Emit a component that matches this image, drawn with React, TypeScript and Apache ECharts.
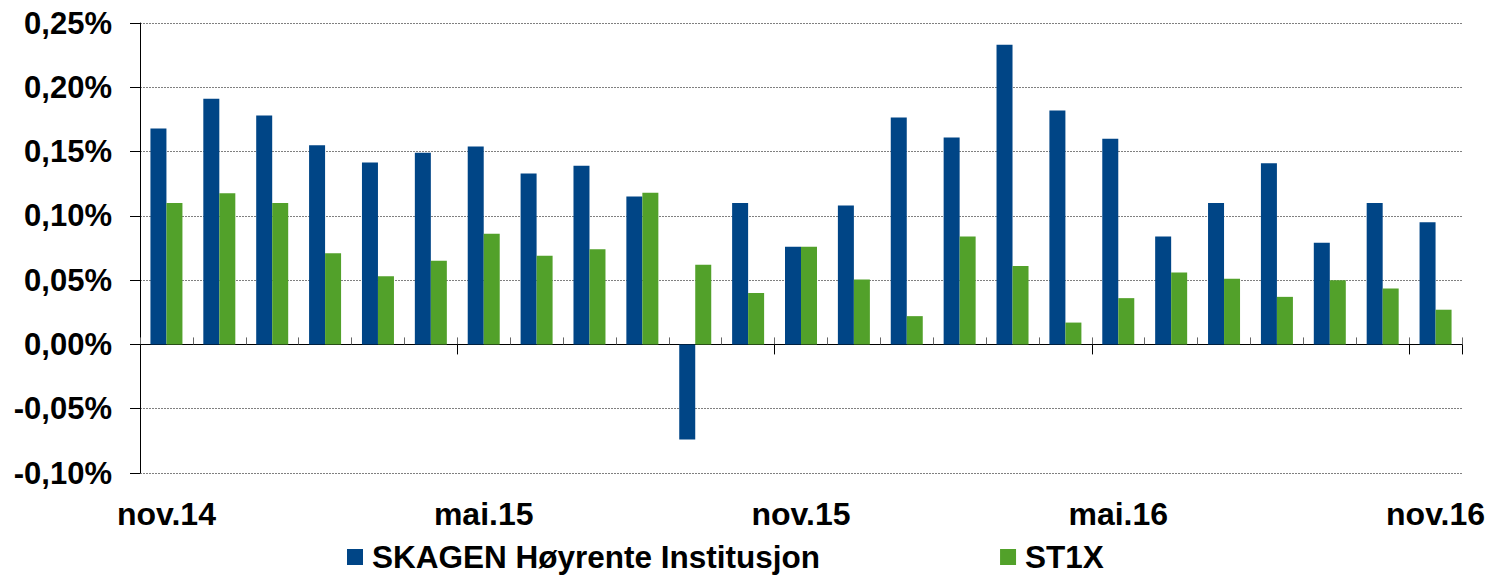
import React, { useEffect, useRef } from "react";
import * as echarts from "echarts";

const categories = [
  "nov.14", "des.14", "jan.15", "feb.15", "mar.15", "apr.15", "mai.15",
  "jun.15", "jul.15", "aug.15", "sep.15", "okt.15", "nov.15", "des.15",
  "jan.16", "feb.16", "mar.16", "apr.16", "mai.16", "jun.16", "jul.16",
  "aug.16", "sep.16", "okt.16", "nov.16",
];

const skagenValues = [
  0.168, 0.191, 0.178, 0.155, 0.1415, 0.149, 0.154, 0.133, 0.139, 0.115,
  -0.074, 0.11, 0.076, 0.108, 0.1765, 0.161, 0.233, 0.182, 0.16, 0.084,
  0.11, 0.141, 0.079, 0.11, 0.095,
];

const st1xValues = [
  0.11, 0.1175, 0.11, 0.071, 0.053, 0.065, 0.086, 0.069, 0.074, 0.118,
  0.062, 0.04, 0.076, 0.0505, 0.022, 0.084, 0.061, 0.017, 0.036, 0.056,
  0.051, 0.037, 0.05, 0.0435, 0.027,
];

const seriesNames = ["SKAGEN Høyrente Institusjon", "ST1X"];
const FONT = "'Liberation Sans', Arial, sans-serif";

export default function App() {
  const ref = useRef<HTMLDivElement>(null);

  useEffect(() => {
    if (!ref.current) return;
    const chart = echarts.init(ref.current, null, { renderer: "svg" });
    chart.setOption({
      animation: false,
      backgroundColor: "#ffffff",
      textStyle: { fontFamily: FONT },
      grid: { left: 140, right: 28, top: 23, bottom: 103, containLabel: false },
      legend: {
        data: seriesNames,
        left: 347,
        top: 541,
        padding: 0,
        icon: "rect",
        itemWidth: 16,
        itemHeight: 16,
        itemGap: 180,
        textStyle: {
          fontSize: 31.5,
          lineHeight: 32,
          fontWeight: "bold",
          color: "#000",
          fontFamily: FONT,
          padding: [0, 0, 0, 4],
        },
      },
      xAxis: [
        {
          type: "category",
          data: categories,
          position: "bottom",
          axisLine: { show: true, onZero: true, onZeroAxisIndex: 0, lineStyle: { color: "#000", width: 1 } },
          axisTick: { show: true, inside: true, length: 7, interval: 0, lineStyle: { color: "#666" } },
          axisLabel: { show: false },
          splitLine: { show: false },
        },
        {
          type: "category",
          data: categories,
          position: "bottom",
          axisLine: { show: false, onZero: true, onZeroAxisIndex: 0 },
          axisTick: {
            show: true,
            inside: false,
            length: 10,
            interval: (i: number) => i % 6 === 0,
            lineStyle: { color: "#000" },
          },
          axisLabel: { show: false },
          splitLine: { show: false },
        },
        {
          type: "category",
          data: categories,
          position: "bottom",
          axisLine: { show: false, onZero: false },
          axisTick: { show: false },
          axisLabel: {
            show: true,
            interval: (i: number) => i % 6 === 0,
            fontSize: 32,
            fontWeight: "bold",
            color: "#000",
            fontFamily: FONT,
            margin: 25,
          },
          splitLine: { show: false },
        },
      ],
      yAxis: {
        type: "value",
        min: -0.1,
        max: 0.25,
        interval: 0.05,
        axisLine: { show: true, lineStyle: { color: "#000", width: 1 } },
        axisTick: { show: true, length: 10, lineStyle: { color: "#000" } },
        axisLabel: {
          fontSize: 31,
          fontWeight: "bold",
          color: "#000",
          fontFamily: FONT,
          margin: 28,
          formatter: (v: number) => v.toFixed(2).replace(".", ",") + "%",
        },
        splitLine: { show: true, lineStyle: { color: "#808080", type: [2, 1], width: 1 } },
      },
      series: [
        {
          name: seriesNames[0],
          type: "bar",
          xAxisIndex: 0,
          data: skagenValues,
          barWidth: 16,
          barGap: "0%",
          itemStyle: { color: "#004586" },
        },
        {
          name: seriesNames[1],
          type: "bar",
          xAxisIndex: 0,
          data: st1xValues,
          barWidth: 16,
          barGap: "0%",
          itemStyle: { color: "#52a12a" },
        },
      ],
    });
    return () => chart.dispose();
  }, []);

  return (
    <div
      ref={ref}
      style={{ position: "absolute", left: 0, top: 0, width: 1490, height: 576 }}
    />
  );
}
